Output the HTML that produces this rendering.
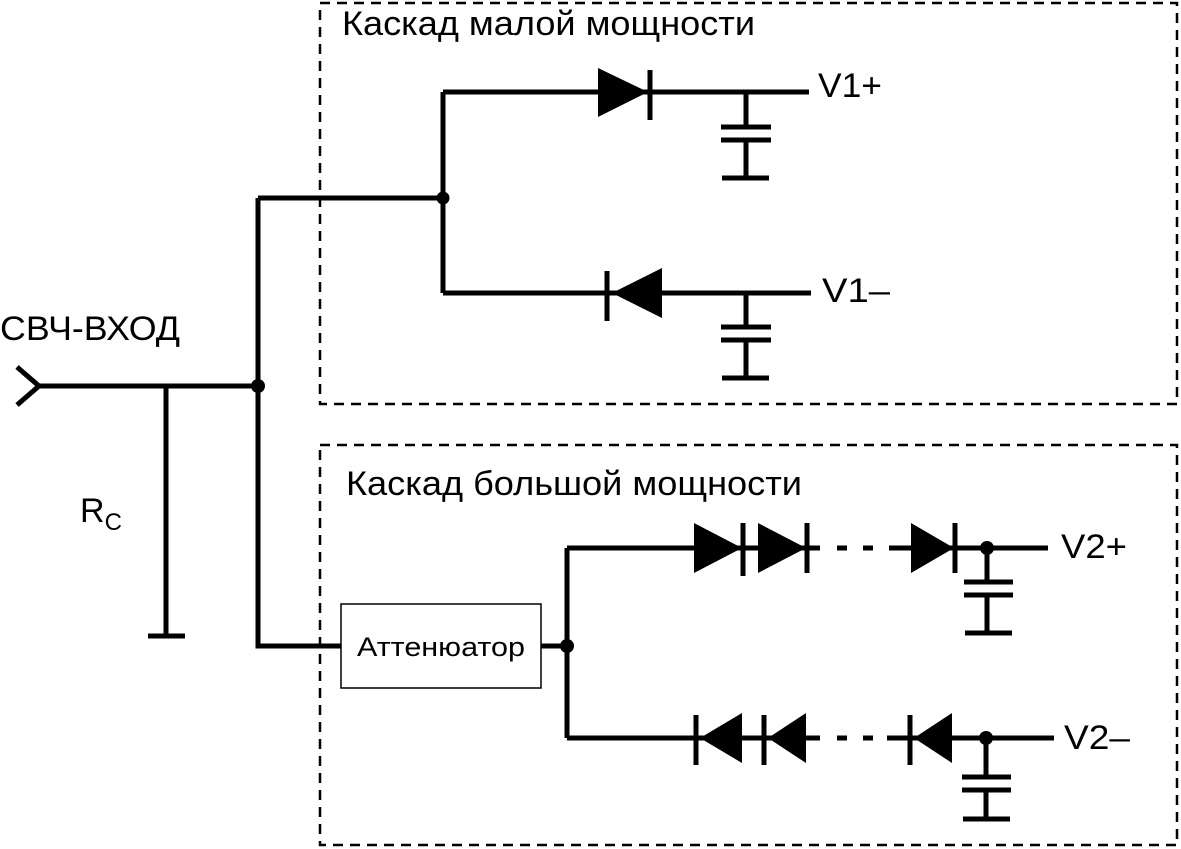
<!DOCTYPE html>
<html><head><meta charset="utf-8"><style>html,body{margin:0;padding:0;background:#fff}svg{display:block}</style></head>
<body>
<svg width="1181" height="849" viewBox="0 0 1181 849" xmlns="http://www.w3.org/2000/svg" font-family="Liberation Sans, sans-serif">
<g fill="none" stroke="#000">
<rect x="320" y="3" width="857" height="401" stroke-width="2.5" stroke-dasharray="10,7"/>
<rect x="320" y="445" width="857" height="400" stroke-width="2.5" stroke-dasharray="10,7"/>
<rect x="341" y="604" width="200" height="84" stroke-width="1.5"/>
<g stroke-width="5">
<polyline points="17,367 39,386 17,405"/>
<line x1="38" y1="386" x2="258" y2="386"/>
<line x1="166" y1="386" x2="166" y2="636"/>
<line x1="148" y1="636" x2="185" y2="636"/>
<polyline points="258,198 258,646 341,646"/>
<line x1="258" y1="198" x2="443" y2="198"/>
<line x1="443" y1="92" x2="443" y2="293"/>
<line x1="443" y1="92" x2="809" y2="92"/>
<line x1="443" y1="293" x2="811" y2="293"/>
<line x1="650" y1="70" x2="650" y2="120"/>
<line x1="607" y1="271" x2="607" y2="321"/>
<line x1="746" y1="92" x2="746" y2="127"/><line x1="721" y1="127" x2="771" y2="127"/><line x1="721" y1="140" x2="771" y2="140"/><line x1="746" y1="140" x2="746" y2="178"/><line x1="722" y1="178" x2="769" y2="178"/>
<line x1="746" y1="293" x2="746" y2="327"/><line x1="721" y1="327" x2="771" y2="327"/><line x1="721" y1="340" x2="771" y2="340"/><line x1="746" y1="340" x2="746" y2="378"/><line x1="722" y1="378" x2="769" y2="378"/>
<line x1="541" y1="646" x2="567" y2="646"/>
<line x1="567" y1="548" x2="567" y2="738"/>
<line x1="567" y1="548" x2="820" y2="548"/>
<line x1="567" y1="738" x2="820" y2="738"/>
<line x1="837" y1="548" x2="847" y2="548"/><line x1="863" y1="548" x2="873" y2="548"/>
<line x1="837" y1="738" x2="847" y2="738"/><line x1="863" y1="738" x2="873" y2="738"/>
<line x1="889" y1="548" x2="1048" y2="548"/>
<line x1="887" y1="738" x2="1054" y2="738"/>
<line x1="743" y1="523" x2="743" y2="576"/><line x1="807" y1="523" x2="807" y2="573"/><line x1="955" y1="523" x2="955" y2="573"/>
<line x1="696" y1="715" x2="696" y2="765"/><line x1="764" y1="715" x2="764" y2="765"/><line x1="910" y1="715" x2="910" y2="765"/>
<line x1="987" y1="548" x2="987" y2="582"/><line x1="964" y1="582" x2="1013" y2="582"/><line x1="964" y1="595" x2="1013" y2="595"/><line x1="987" y1="595" x2="987" y2="633"/><line x1="965" y1="633" x2="1012" y2="633"/>
<line x1="986" y1="738" x2="986" y2="777"/><line x1="962" y1="777" x2="1011" y2="777"/><line x1="962" y1="790" x2="1011" y2="790"/><line x1="986" y1="790" x2="986" y2="819"/><line x1="963" y1="819" x2="1010" y2="819"/>
</g></g>
<g fill="#000">
<circle cx="258" cy="386" r="7"/><circle cx="443" cy="198" r="6.5"/><circle cx="567" cy="646" r="7"/><circle cx="987" cy="548" r="7"/><circle cx="986" cy="738" r="7"/>
<polygon points="598,68 648,92 598,117"/>
<polygon points="612,293 662,268 662,318"/>
<polygon points="694,523 742,548 694,573"/>
<polygon points="758,523 806,548 758,573"/>
<polygon points="911,523 954,548 911,573"/>
<polygon points="700,738 742,713 742,763"/>
<polygon points="768,738 806,713 806,763"/>
<polygon points="914,738 952,713 952,763"/>
</g>
<g fill="#000">
<text x="342" y="35" font-size="34" textLength="413" lengthAdjust="spacingAndGlyphs">Каскад малой мощности</text>
<text x="346" y="495" font-size="34" textLength="456" lengthAdjust="spacingAndGlyphs">Каскад большой мощности</text>
<text x="0" y="340" font-size="34" textLength="180" lengthAdjust="spacingAndGlyphs">СВЧ-ВХОД</text>
<text x="80" y="522" font-size="34">R<tspan font-size="24" dy="8">C</tspan></text>
<text x="357" y="656" font-size="27" textLength="168" lengthAdjust="spacingAndGlyphs">Аттенюатор</text>
<text x="818" y="97" font-size="34" textLength="64" lengthAdjust="spacingAndGlyphs">V1+</text>
<text x="822" y="302" font-size="34" textLength="68" lengthAdjust="spacingAndGlyphs">V1–</text>
<text x="1061" y="558" font-size="34" textLength="66" lengthAdjust="spacingAndGlyphs">V2+</text>
<text x="1064" y="749" font-size="34" textLength="66" lengthAdjust="spacingAndGlyphs">V2–</text>
</g>
</svg>
</body></html>
